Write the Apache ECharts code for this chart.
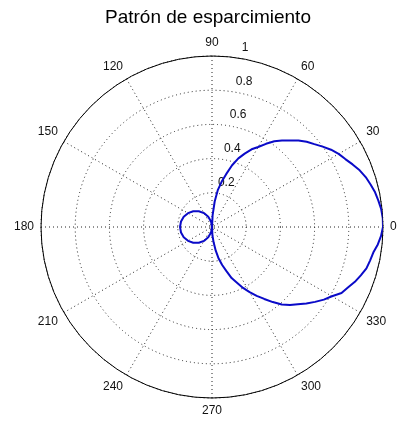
<!DOCTYPE html>
<html>
<head>
<meta charset="utf-8">
<script src="https://cdn.jsdelivr.net/npm/echarts@6/dist/echarts.min.js"></script>
<style>html,body{margin:0;padding:0;background:#fff;}#c{width:398px;height:426px;}</style>
</head>
<body>
<div id="c"></div>
<script>
// Angles (degrees) and radii
const angles = [
  90, 87, 84, 81, 78, 75, 72, 69, 66, 63, 60, 57, 54, 51, 48, 45, 42, 39, 36, 33, 30,
  27, 24, 21, 18, 15, 12, 9, 6, 3, 0,
  357, 354, 351, 348, 345, 342, 339, 336, 333, 330, 327, 324, 321, 318, 315, 312,
  309, 306, 303, 300, 297, 294, 291, 288, 285, 282, 279, 276, 273, 270,
  260, 250, 240, 230, 220, 210, 200, 190, 180, 170, 160, 150, 140, 130, 120, 110, 100, 90
];
const radii = [
  0.00, 0.07, 0.15, 0.22, 0.27, 0.32, 0.38, 0.43, 0.47, 0.51, 0.54, 0.58, 0.62, 0.65, 0.68, 0.715, 0.745, 0.77, 0.80, 0.83, 0.855,
  0.875, 0.90, 0.925, 0.945, 0.96, 0.975, 0.985, 0.995, 1.00, 1.00,
  0.99, 0.975, 0.955, 0.945, 0.935, 0.915, 0.895, 0.87, 0.85, 0.81, 0.78, 0.745, 0.71, 0.675, 0.645, 0.61,
  0.565, 0.52, 0.48, 0.44, 0.40, 0.355, 0.32, 0.27, 0.23, 0.19, 0.14, 0.09, 0.05, 0.00,
  0.033, 0.064, 0.094, 0.12, 0.143, 0.162, 0.176, 0.184, 0.187, 0.184, 0.176, 0.162, 0.143, 0.12, 0.094, 0.064, 0.033, 0.00
];
const angleTicks = [0, 30, 60, 90, 120, 150, 180, 210, 240, 270, 300, 330];
const radiusTicks = [0.2, 0.4, 0.6, 0.8, 1];
const titleText = 'Patrón de esparcimiento';

const data = angles.map((a, i) => [radii[i], a]);
const font = 'Liberation Sans, Arial, sans-serif';
const dotStyle = { color: '#222', width: 1, type: [1, 3] };

const chart = echarts.init(document.getElementById('c'));
chart.setOption({
  animation: false,
  title: {
    text: titleText, left: 100, top: 3,
    textStyle: { fontFamily: font, fontSize: 19, fontWeight: 'normal', color: '#000' }
  },
  polar: [
    { center: [212, 227], radius: 171 },
    { center: [212, 227], radius: 171 }
  ],
  angleAxis: [
    {
      polarIndex: 0, type: 'value', min: 0, max: 360, interval: 30,
      startAngle: 0, clockwise: false,
      axisLine: { show: true, lineStyle: { color: '#000', width: 1 } },
      axisTick: { show: false },
      splitLine: { show: true, lineStyle: dotStyle },
      axisLabel: {
        margin: 7,
        fontFamily: font, fontSize: 12, color: '#111',
        formatter: v => (angleTicks.indexOf(v) >= 0 ? String(v) : '')
      }
    },
    {
      polarIndex: 1, type: 'value', min: 0, max: 360, startAngle: 80, clockwise: false,
      axisLine: { show: false }, axisTick: { show: false }, axisLabel: { show: false },
      splitLine: { show: false }
    }
  ],
  radiusAxis: [
    {
      polarIndex: 0, type: 'value', min: 0, max: 1, interval: 0.2,
      axisLine: { show: false }, axisTick: { show: false }, axisLabel: { show: false },
      splitLine: { show: true, lineStyle: dotStyle }
    },
    {
      polarIndex: 1, type: 'value', min: 0, max: 1, interval: 0.2,
      axisLine: { show: false }, axisTick: { show: false }, splitLine: { show: false },
      axisLabel: {
        show: true, margin: 0, align: 'left', verticalAlign: 'bottom',
        padding: [0, 0, 5, 0], showMinLabel: false,
        fontFamily: font, fontSize: 12, color: '#111',
        formatter: v => (radiusTicks.indexOf(+v.toFixed(1)) >= 0 ? String(+v.toFixed(1)) : '')
      }
    }
  ],
  series: [{
    type: 'line', coordinateSystem: 'polar', polarIndex: 0,
    data: data, symbol: 'none', smooth: false,
    lineStyle: { color: '#0a0ac8', width: 2 }
  }]
});
</script>
</body>
</html>
